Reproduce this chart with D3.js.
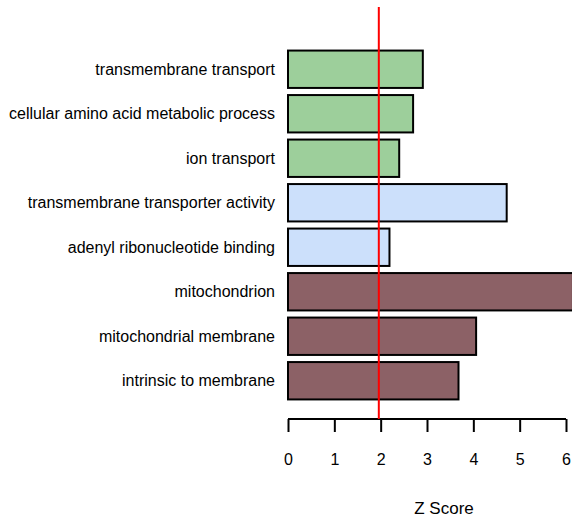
<!DOCTYPE html>
<html>
<head>
    <title>Z Score bar chart</title>
    <style>
        body { margin: 0; background: #ffffff; }
        #chart text {
            font-family: "Liberation Sans", Arial, sans-serif;
            fill: #000000;
        }
    </style>
    <script src="https://d3js.org/d3.v7.min.js"></script>
</head>
<body>
    <div id="chart"></div>

    <script>
        var terms = [
            "transmembrane transport",
            "cellular amino acid metabolic process",
            "ion transport",
            "transmembrane transporter activity",
            "adenyl ribonucleotide binding",
            "mitochondrion",
            "mitochondrial membrane",
            "intrinsic to membrane"
        ];
        var zScores = [2.91, 2.70, 2.40, 4.72, 2.19, 6.15, 4.06, 3.68];
        var groups = ["process", "process", "process", "function", "function", "component", "component", "component"];
        var groupColors = { process: "#9dcf9b", function: "#cce0fb", component: "#8c6166" };
        var xTicks = [0, 1, 2, 3, 4, 5, 6];
        var threshold = 1.96;

        var width = 572, height = 520;

        var svg = d3.select("#chart").append("svg")
            .attr("width", width)
            .attr("height", height);

        var x = d3.scaleLinear().domain([0, 6]).range([288, 566]);
        var y = d3.scaleBand().domain(terms).range([47, 403]).paddingInner(0.16).paddingOuter(0.08);

        // bars
        svg.selectAll("rect.bar")
            .data(terms)
            .enter().append("rect")
            .attr("class", "bar")
            .attr("x", x(0))
            .attr("y", function(d) { return y(d); })
            .attr("width", function(d, i) { return x(zScores[i]) - x(0); })
            .attr("height", y.bandwidth())
            .attr("fill", function(d, i) { return groupColors[groups[i]]; })
            .attr("stroke", "#000000")
            .attr("stroke-width", 2);

        // category labels
        svg.selectAll("text.label")
            .data(terms)
            .enter().append("text")
            .attr("class", "label")
            .attr("x", 275)
            .attr("y", function(d) { return y(d) + y.bandwidth() / 2; })
            .attr("dy", "0.35em")
            .attr("text-anchor", "end")
            .style("font-size", "16px")
            .text(function(d) { return d; });

        // x axis
        var axis = svg.append("g")
            .attr("transform", "translate(0,419)")
            .call(d3.axisBottom(x).tickValues(xTicks).tickSize(13).tickPadding(22).tickFormat(d3.format("d")));
        axis.select(".domain").attr("stroke", "#000").attr("stroke-width", 2).attr("d", "M" + x(0) + ",0H" + x(6));
        axis.selectAll(".tick line").attr("stroke", "#000").attr("stroke-width", 2);
        axis.selectAll(".tick text").style("font-size", "16px").attr("fill", "#000");

        // threshold line
        svg.append("line")
            .attr("x1", x(threshold)).attr("x2", x(threshold))
            .attr("y1", 7).attr("y2", 419)
            .attr("stroke", "#ff0000")
            .attr("stroke-width", 2);

        svg.append("text")
            .attr("x", 444)
            .attr("y", 514)
            .attr("text-anchor", "middle")
            .style("font-size", "17px")
            .text("Z Score");
    </script>
</body>
</html>
